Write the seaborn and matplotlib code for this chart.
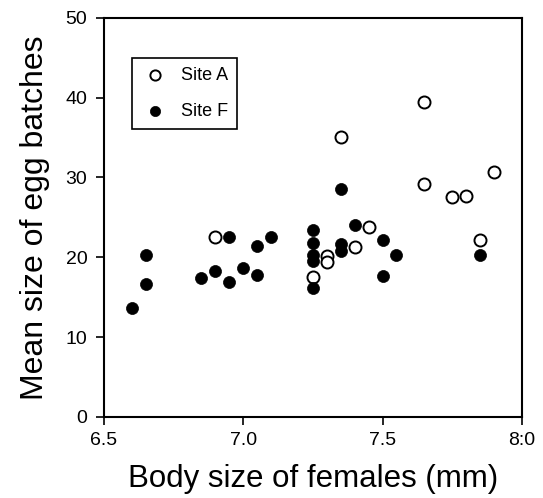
import matplotlib
matplotlib.use("Agg")
import matplotlib.pyplot as plt
import seaborn as sns
import pandas as pd

# Site A (open circles)
body_a = [6.90, 7.25, 7.30, 7.30, 7.35, 7.40, 7.45, 7.65, 7.65, 7.75, 7.80, 7.85, 7.90]
eggs_a = [22.6, 17.5, 20.1, 19.4, 35.1, 21.3, 23.8, 29.2, 39.5, 27.6, 27.7, 22.2, 30.7]

# Site F (filled circles)
body_f = [6.60, 6.65, 6.65, 6.85, 6.90, 6.95, 6.95, 7.00, 7.05, 7.05, 7.10,
          7.25, 7.25, 7.25, 7.25, 7.25, 7.35, 7.35, 7.35, 7.40, 7.50, 7.50, 7.55, 7.85]
eggs_f = [13.6, 16.7, 20.3, 17.4, 18.3, 22.6, 16.9, 18.6, 21.4, 17.8, 22.6,
          23.4, 21.8, 20.3, 19.5, 16.2, 28.5, 21.7, 20.8, 24.1, 22.2, 17.7, 20.3, 20.3]

x_ticks = [6.5, 7.0, 7.5, 8.0]
x_labels = ["6.5", "7.0", "7.5", "8:0"]
y_ticks = [0, 10, 20, 30, 40, 50]

df_a = pd.DataFrame({"body": body_a, "eggs": eggs_a})
df_f = pd.DataFrame({"body": body_f, "eggs": eggs_f})

sns.set_style("ticks")
plt.rcParams["font.family"] = ["Liberation Sans", "DejaVu Sans"]
plt.rcParams["text.color"] = "black"
plt.rcParams["axes.labelcolor"] = "black"

fig = plt.figure(figsize=(5.43, 4.98), dpi=100)
ax = fig.add_axes([0.1915, 0.163, 0.7695, 0.801])

sns.scatterplot(data=df_a, x="body", y="eggs", ax=ax, marker="o", s=75,
                facecolor="white", edgecolor="black", linewidth=1.4, label="Site A", zorder=3)
sns.scatterplot(data=df_f, x="body", y="eggs", ax=ax, marker="o", s=75,
                color="black", edgecolor="black", linewidth=0.5, label="Site F", zorder=3)

ax.set_xlim(6.5, 8.0)
ax.set_ylim(0, 50)
ax.set_xticks(x_ticks)
ax.set_xticklabels(x_labels)
ax.set_yticks(y_ticks)
ax.tick_params(direction="out", length=6, width=1.2, labelsize=14, colors="black")
ax.tick_params(axis="x", pad=5)
ax.tick_params(axis="y", pad=6)
for s in ax.spines.values():
    s.set_linewidth(1.5)
    s.set_color("black")

ax.set_xlabel("Body size of females (mm)", fontsize=22.5, labelpad=11, color="black")
ax.set_ylabel("Mean size of egg batches", fontsize=23, labelpad=11, color="black")

leg = ax.legend(loc="upper left", bbox_to_anchor=(0.067, 0.90), fontsize=13,
                frameon=True, fancybox=False, borderpad=0.5, labelspacing=1.07,
                handlelength=1.6, handletextpad=0.6, markerscale=0.85, borderaxespad=0)
leg.get_frame().set_edgecolor("black")
leg.get_frame().set_linewidth(1.2)
leg.get_frame().set_alpha(1)
for t in leg.get_texts():
    t.set_color("black")

fig.savefig("out.png", dpi=100)
